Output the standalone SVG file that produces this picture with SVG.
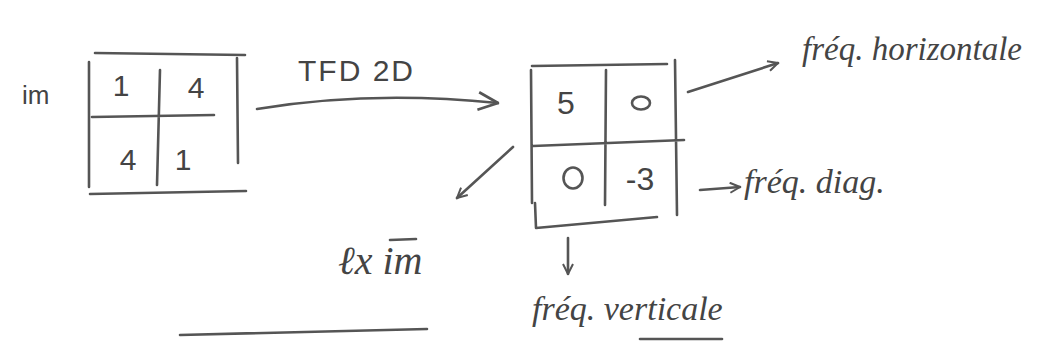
<svg xmlns="http://www.w3.org/2000/svg" width="1040" height="347" viewBox="0 0 1040 347">
<style>
.s{fill:none;stroke:#555;stroke-width:2.6;stroke-linecap:round;stroke-linejoin:round}
.t{font-family:"Liberation Sans",Arial,sans-serif;fill:#444}
.h{font-family:"Liberation Serif","Times New Roman",serif;font-style:italic;fill:#444}
</style>
<defs>
<marker id="a" viewBox="0 0 12 12" refX="11" refY="6" markerWidth="12" markerHeight="12" markerUnits="userSpaceOnUse" orient="auto">
<path d="M1,1 L11,6 L1,11" fill="none" stroke="#555" stroke-width="2"/>
</marker>
<marker id="b" viewBox="0 0 20 20" refX="19" refY="10" markerWidth="22" markerHeight="22" markerUnits="userSpaceOnUse" orient="auto">
<path d="M1,2 L19,10 L1,18" fill="none" stroke="#555" stroke-width="2.4"/>
</marker>
</defs>
<g id="label-im"><text class="t" x="22" y="104" font-size="26">im</text></g>
<g id="matrix-im">
<path class="s" d="M95,53 L245,55 M89,62 L89,187 M160,70 L157,185 M237,58 L238,163 M92,117 L214,115 M90,194 L246,191"/>
<text class="t" x="121" y="96" font-size="30" text-anchor="middle">1</text>
<text class="t" x="196" y="98" font-size="30" text-anchor="middle">4</text>
<text class="t" x="128" y="170" font-size="30" text-anchor="middle">4</text>
<text class="t" x="183" y="170" font-size="30" text-anchor="middle">1</text>
</g>
<g id="matrix-tfd">
<path class="s" d="M532,66 L667,64 M531,70 L532,203 M535,203 L536,228 M606,70 L605,205 M675,60 L677,215 M533,146 L684,140 M536,228 L657,217"/>
<text class="t" x="566" y="114" font-size="32" text-anchor="middle">5</text>
<ellipse cx="641" cy="103" rx="9" ry="6.5" class="s"/>
<ellipse cx="573" cy="178" rx="9.5" ry="10.5" class="s"/>
<text class="t" x="640" y="190" font-size="32" text-anchor="middle">-3</text>
</g>
<g id="label-tfd"><text class="t" x="298" y="81" font-size="30" letter-spacing="2">TFD 2D</text></g>
<g id="label-freq-h"><text class="h" x="802" y="60" font-size="33">fréq. horizontale</text></g>
<g id="label-freq-d"><text class="h" x="744" y="193" font-size="34">fréq. diag.</text></g>
<g id="label-freq-v"><text class="h" x="532" y="320" font-size="34">fréq. verticale</text>
<path class="s" d="M640,339 L722,339" stroke-width="2"/></g>
<g id="label-ex-im"><text class="h" x="338" y="274" font-size="40">ℓx im</text>
<path class="s" d="M390,240 L416,239" stroke-width="2"/></g>
<g id="connectors">
<path class="s" d="M257,109 Q370,90 498,103" marker-end="url(#b)"/>
<path class="s" d="M513,147 L457,198" marker-end="url(#a)"/>
<path class="s" d="M688,92 L778,63" marker-end="url(#a)"/>
<path class="s" d="M700,190 L740,187" marker-end="url(#a)"/>
<path class="s" d="M568,238 L568,274" marker-end="url(#a)"/>
<path class="s" d="M180,335 L427,329"/>
</g>
</svg>
